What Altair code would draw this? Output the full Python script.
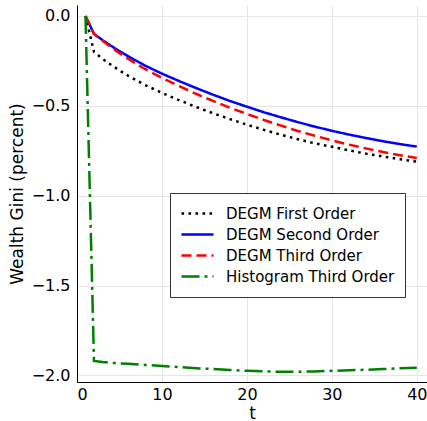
import altair as alt
import pandas as pd

# Time steps and wealth Gini (percent change) for each solver
t = [1, 2, 3, 4, 5, 6, 8, 10, 12, 14, 16, 18, 20, 22, 24, 26, 28, 30, 32, 34, 36, 38, 40]

degm_first = [0.0, -0.200, -0.238, -0.272, -0.303, -0.332, -0.384, -0.428, -0.468, -0.506,
              -0.541, -0.574, -0.605, -0.634, -0.661, -0.686, -0.709, -0.728, -0.748, -0.766,
              -0.782, -0.797, -0.811]
degm_second = [0.0, -0.100, -0.134, -0.166, -0.196, -0.224, -0.276, -0.321, -0.362, -0.401,
               -0.438, -0.473, -0.505, -0.536, -0.564, -0.591, -0.616, -0.639, -0.660, -0.679,
               -0.697, -0.713, -0.727]
degm_third = [0.0, -0.100, -0.138, -0.174, -0.207, -0.238, -0.295, -0.345, -0.390, -0.433,
              -0.473, -0.511, -0.545, -0.579, -0.610, -0.640, -0.667, -0.692, -0.716, -0.737,
              -0.757, -0.775, -0.791]
hist_third = [0.0, -1.920, -1.926, -1.930, -1.933, -1.936, -1.942, -1.948, -1.954, -1.960,
              -1.965, -1.970, -1.975, -1.978, -1.980, -1.980, -1.978, -1.975, -1.972, -1.969,
              -1.965, -1.961, -1.958]

series_names = ["DEGM First Order", "DEGM Second Order", "DEGM Third Order", "Histogram Third Order"]
series_values = [degm_first, degm_second, degm_third, hist_third]

x_ticks = [0, 10, 20, 30, 40]
y_ticks = [0.0, -0.5, -1.0, -1.5, -2.0]

rows = []
for name, vals in zip(series_names, series_values):
    for ti, v in zip(t, vals):
        rows.append({"t": ti, "gini": v, "series": name})
df = pd.DataFrame(rows)

colors = ["#000000", "#0000ff", "#ff0000", "#008000"]
dashes = [[2.6, 4.4], [1, 0], [10, 5], [18, 5, 3, 5]]

font = "DejaVu Sans"

chart = (
    alt.Chart(df)
    .mark_line(strokeWidth=2.5, clip=True)
    .encode(
        x=alt.X(
            "t:Q",
            title="t",
            scale=alt.Scale(domain=[0, 41.2], nice=False, zero=False),
            axis=alt.Axis(values=x_ticks, format="d"),
        ),
        y=alt.Y(
            "gini:Q",
            title="Wealth Gini (percent)",
            scale=alt.Scale(domain=[-2.037, 0.061], nice=False, zero=False),
            axis=alt.Axis(values=y_ticks, format=".1f"),
        ),
        color=alt.Color(
            "series:N",
            title=None,
            scale=alt.Scale(domain=series_names, range=colors),
            legend=alt.Legend(
                orient="none",
                legendX=93,
                legendY=188,
                symbolType="stroke",
                symbolSize=1024,
                symbolStrokeWidth=2.5,
                symbolOffset=0,
                clipHeight=21,
                labelOffset=11,
                labelFontSize=15,
                labelFont=font,
                labelColor="#000000",
                labelLimit=300,
                padding=10,
                fillColor="#ffffff",
                strokeColor="#333333",
                rowPadding=0,
            ),
        ),
        strokeDash=alt.StrokeDash(
            "series:N",
            title=None,
            scale=alt.Scale(domain=series_names, range=dashes),
        ),
        detail="series:N",
    )
    .properties(
        width=350,
        height=377,
        autosize=alt.AutoSizeParams(type="none"),
        padding={"left": 77, "top": 5, "right": 0, "bottom": 39},
    )
    .configure_view(stroke=None)
    .configure_axis(
        labelFont=font,
        titleFont=font,
        labelFontSize=16,
        titleFontSize=17,
        titleFontWeight="normal",
        labelColor="#000000",
        titleColor="#000000",
        domainColor="#000000",
        domainWidth=1,
        gridColor="#e6e6e6",
        gridWidth=1,
        ticks=False,
    )
    .configure_axisX(labelPadding=4, titlePadding=3)
    .configure_axisY(labelPadding=7, titlePadding=5)
)

chart.save("out.html", embed_options={"renderer": "svg", "actions": False})
